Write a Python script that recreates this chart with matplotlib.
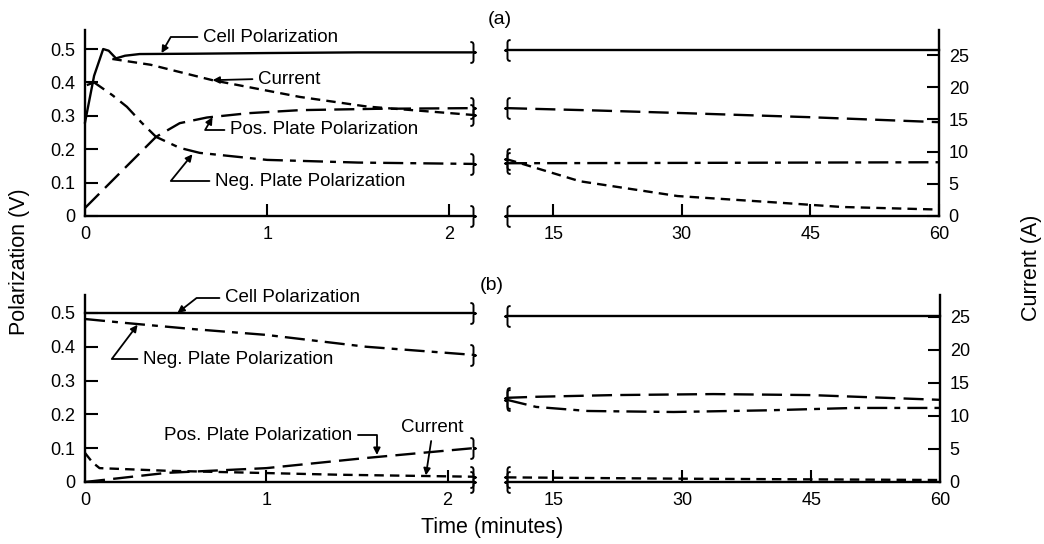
import matplotlib.pyplot as plt
from matplotlib.path import Path
from matplotlib.markers import MarkerStyle

plt.rcParams['font.family'] = ['Liberation Sans', 'DejaVu Sans']

# ---- panel (a), first two minutes ----
cell_a_t = [0, 0.05, 0.1, 0.13, 0.17, 0.22, 0.3, 0.6, 1.0, 1.5, 2.13]
cell_a_v = [0.28, 0.42, 0.5, 0.495, 0.472, 0.48, 0.485, 0.486, 0.488, 0.49, 0.49]
pos_a_t = [0, 0.17, 0.39, 0.52, 0.67, 0.9, 1.18, 1.6, 2.13]
pos_a_v = [0.024, 0.117, 0.237, 0.278, 0.295, 0.308, 0.317, 0.321, 0.323]
neg_a_t = [0.01, 0.05, 0.15, 0.23, 0.31, 0.39, 0.52, 0.63, 1.0, 1.5, 2.13]
neg_a_v = [0.392, 0.40, 0.362, 0.327, 0.28, 0.237, 0.204, 0.189, 0.168, 0.16, 0.156]
cur_a_t = [0.15, 0.36, 0.7, 1.18, 1.55, 2.13]
cur_a_i = [24.4, 23.5, 21.1, 18.5, 17.0, 15.7]

# ---- panel (a), 10 to 60 minutes ----
cell_ar_t = [9.6, 60]
cell_ar_v = [0.497, 0.497]
pos_ar_t = [9.6, 20, 30.3, 44.8, 60]
pos_ar_v = [0.323, 0.316, 0.308, 0.296, 0.281]
neg_ar_t = [9.6, 30, 60]
neg_ar_v = [0.158, 0.159, 0.161]
cur_ar_t = [9.6, 10.4, 18.1, 29.5, 41, 48.7, 60]
cur_ar_i = [8.8, 8.5, 5.4, 3.1, 2.1, 1.4, 1.0]

# ---- panel (b), first two minutes ----
cell_b_t = [0, 2.14]
cell_b_v = [0.5, 0.5]
neg_b_t = [0, 0.23, 0.6, 1.0, 1.55, 2.14]
neg_b_v = [0.482, 0.47, 0.452, 0.435, 0.40, 0.376]
pos_b_t = [0, 0.45, 1.0, 1.55, 2.14]
pos_b_v = [0.0, 0.027, 0.041, 0.071, 0.10]
cur_b_t = [0, 0.04, 0.08, 0.45, 1.4, 2.14]
cur_b_i = [4.4, 3.0, 2.1, 1.7, 1.1, 0.8]

# ---- panel (b), 10 to 60 minutes ----
cell_br_t = [9.6, 60]
cell_br_v = [0.491, 0.491]
pos_br_t = [9.6, 13, 22, 33.6, 45, 60]
pos_br_v = [0.249, 0.252, 0.257, 0.26, 0.257, 0.243]
neg_br_t = [9.6, 13, 19, 29, 40, 50, 60]
neg_br_v = [0.243, 0.222, 0.210, 0.207, 0.212, 0.219, 0.219]
cur_br_t = [9.6, 30, 60]
cur_br_i = [0.7, 0.5, 0.3]

pol_ticks = [0, 0.1, 0.2, 0.3, 0.4, 0.5]
pol_labels = ['0', '0.1', '0.2', '0.3', '0.4', '0.5']
cur_ticks = [0, 5, 10, 15, 20, 25]
early_ticks = [0, 1, 2]
late_ticks = [15, 30, 45, 60]

W, H = 1044, 544
LW = 1.7
SOLID = '-'
SHORT = (0, (4, 2.6))
LONG = (0, (8.5, 3.5))
DASHDOT = (0, (8.5, 3, 2.5, 3))
TICK_FS = 13
NOTE_FS = 13.5

fig = plt.figure(figsize=(W / 100, H / 100), dpi=100)


def brace(flip=False):
    s = -1 if flip else 1
    verts = [(-0.3 * s, 1.0), (0, 1.0), (0, 0.9), (0, 0.6), (0, 0.2),
             (0, 0.05), (0.1 * s, 0), (0.25 * s, 0),
             (0.1 * s, 0), (0, -0.05), (0, -0.2), (0, -0.6),
             (0, -0.9), (0, -1.0), (-0.3 * s, -1.0)]
    codes = [Path.MOVETO, Path.CURVE4, Path.CURVE4, Path.CURVE4, Path.LINETO,
             Path.CURVE4, Path.CURVE4, Path.CURVE4,
             Path.CURVE4, Path.CURVE4, Path.CURVE4, Path.LINETO,
             Path.CURVE4, Path.CURVE4, Path.CURVE4]
    return MarkerStyle(Path(verts, codes))


END_MARK = brace()
START_MARK = brace(flip=True)


def add_axes_px(x0, x1, y0, y1):
    return fig.add_axes([x0 / W, 1 - y1 / H, (x1 - x0) / W, (y1 - y0) / H])


def style_segment(ax, axc, xlim, pol_top, cur_top, xticks, right):
    ax.set_xlim(*xlim)
    ax.set_ylim(0, pol_top)
    axc.set_ylim(0, cur_top)
    for a in (ax, axc):
        a.patch.set_visible(False)
        for sp in a.spines.values():
            sp.set_visible(False)
            sp.set_linewidth(1.7)
    ax.spines['bottom'].set_visible(True)
    ax.set_xticks(xticks)
    ax.set_xticklabels([str(x) for x in xticks])
    ax.tick_params(axis='x', direction='in', length=9, width=1.5,
                   pad=7, labelsize=TICK_FS)
    if right:
        ax.set_yticks([])
        axc.spines['right'].set_visible(True)
        axc.set_yticks(cur_ticks)
        axc.set_yticklabels([str(c) for c in cur_ticks])
        axc.tick_params(axis='y', direction='in', length=9, width=1.5,
                        pad=7, labelsize=TICK_FS)
        ax.plot(xlim[0], 0, marker=START_MARK, ms=15, mfc='none',
                mec='k', mew=1.4, clip_on=False)
    else:
        axc.set_yticks([])
        ax.spines['left'].set_visible(True)
        ax.set_yticks(pol_ticks)
        ax.set_yticklabels(pol_labels)
        ax.tick_params(axis='y', direction='in', length=9, width=1.5,
                       pad=7, labelsize=TICK_FS)
        ax.plot(xlim[1], 0, marker=END_MARK, ms=15, mfc='none',
                mec='k', mew=1.4, clip_on=False)


def curve(ax, t, v, ls, mark):
    ax.plot(t, v, color='k', lw=LW, linestyle=ls, clip_on=False)
    if mark == 'end':
        ax.plot(t[-1], v[-1], marker=END_MARK, ms=15, mfc='none',
                mec='k', mew=1.4, clip_on=False)
    else:
        ax.plot(t[0], v[0], marker=START_MARK, ms=15, mfc='none',
                mec='k', mew=1.4, clip_on=False)


def note(ax, text, xy, txt_px, conn, relpos=(0, 0.5), ha='left', va='center'):
    ax.annotate(text, xy=xy, xycoords='data',
                xytext=(txt_px[0], H - txt_px[1]), textcoords='figure pixels',
                ha=ha, va=va, fontsize=NOTE_FS,
                arrowprops=dict(arrowstyle='-|>', color='k', lw=1.3,
                                mutation_scale=10, shrinkA=2, shrinkB=0,
                                relpos=relpos, connectionstyle=conn))


# ---------------- panel (a) ----------------
a_l = add_axes_px(85, 473, 30, 216)
a_lc = a_l.twinx()
style_segment(a_l, a_lc, (0, 2.13), 0.557, 28.9, early_ticks, right=False)
curve(a_l, cell_a_t, cell_a_v, SOLID, 'end')
curve(a_l, pos_a_t, pos_a_v, LONG, 'end')
curve(a_l, neg_a_t, neg_a_v, DASHDOT, 'end')
curve(a_lc, cur_a_t, cur_a_i, SHORT, 'end')

a_r = add_axes_px(507, 939, 30, 216)
a_rc = a_r.twinx()
style_segment(a_r, a_rc, (9.6, 60), 0.557, 28.9, late_ticks, right=True)
curve(a_r, cell_ar_t, cell_ar_v, SOLID, 'start')
curve(a_r, pos_ar_t, pos_ar_v, LONG, 'start')
curve(a_r, neg_ar_t, neg_ar_v, DASHDOT, 'start')
curve(a_rc, cur_ar_t, cur_ar_i, SHORT, 'start')

note(a_l, 'Cell Polarization', (0.42, 0.488), (203, 37),
     'angle,angleA=0,angleB=60,rad=0')
note(a_lc, 'Current', (0.7, 21.1), (258, 79), 'arc3')
note(a_l, 'Pos. Plate Polarization', (0.70, 0.296), (230, 130),
     'angle,angleA=0,angleB=60,rad=0')
note(a_l, 'Neg. Plate Polarization', (0.59, 0.185), (215, 181),
     'angle,angleA=0,angleB=51,rad=0')

# ---------------- panel (b) ----------------
b_l = add_axes_px(85, 473, 295, 482)
b_lc = b_l.twinx()
style_segment(b_l, b_lc, (0, 2.14), 0.553, 28.3, early_ticks, right=False)
curve(b_l, cell_b_t, cell_b_v, SOLID, 'end')
curve(b_l, neg_b_t, neg_b_v, DASHDOT, 'end')
curve(b_l, pos_b_t, pos_b_v, LONG, 'end')
curve(b_lc, cur_b_t, cur_b_i, SHORT, 'end')

b_r = add_axes_px(507, 940, 295, 482)
b_rc = b_r.twinx()
style_segment(b_r, b_rc, (9.6, 60), 0.553, 28.3, late_ticks, right=True)
curve(b_r, cell_br_t, cell_br_v, SOLID, 'start')
curve(b_r, pos_br_t, pos_br_v, LONG, 'start')
curve(b_r, neg_br_t, neg_br_v, DASHDOT, 'start')
curve(b_rc, cur_br_t, cur_br_i, SHORT, 'start')

note(b_l, 'Cell Polarization', (0.51, 0.5), (225, 298),
     'angle,angleA=0,angleB=38,rad=0')
note(b_l, 'Neg. Plate Polarization', (0.29, 0.465), (143, 359),
     'angle,angleA=0,angleB=53,rad=0')
note(b_l, 'Pos. Plate Polarization', (1.61, 0.08), (352, 435),
     'angle,angleA=0,angleB=90,rad=0', relpos=(1, 0.5), ha='right')
note(b_lc, 'Current', (1.88, 1.0), (432, 427), 'arc3',
     relpos=(0.5, 0), ha='center')

# ---------------- labels ----------------
fig.text(500 / W, 1 - 19 / H, '(a)', fontsize=14, ha='center', va='center')
fig.text(492 / W, 1 - 286 / H, '(b)', fontsize=14, ha='center', va='center')
fig.text(20 / W, 1 - 262 / H, 'Polarization (V)', fontsize=15.5,
         rotation=90, ha='center', va='center')
fig.text(1032 / W, 1 - 268 / H, 'Current (A)', fontsize=15.5,
         rotation=90, ha='center', va='center')
fig.text(492 / W, 1 - 527 / H, 'Time (minutes)', fontsize=15.5,
         ha='center', va='center')

fig.savefig('out.png', dpi=100)
